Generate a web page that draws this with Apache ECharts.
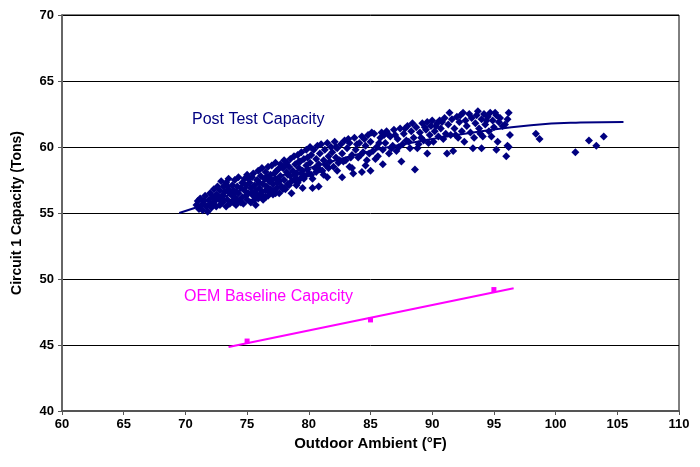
<!DOCTYPE html>
<html>
<head>
<meta charset="utf-8">
<script src="https://cdn.jsdelivr.net/npm/echarts@6/dist/echarts.min.js"></script>
<style>
  html, body { margin: 0; padding: 0; background: #fff; }
  #chart { width: 700px; height: 467px; }
</style>
</head>
<body>
<div id="chart"></div>
<script>
  // post test readings [outdoor temp F, capacity tons], split by temp range
  const postLow = [
    [70.9, 55.6], [71.0, 55.9], [71.1, 55.3], [71.2, 56.1], [71.3, 55.6], [71.4, 55.2], [71.5, 55.9],
    [71.6, 56.3], [71.7, 55.5], [71.8, 55.1], [71.9, 56.0], [72.0, 56.5], [72.0, 55.7], [72.1, 55.4],
    [72.2, 56.2], [72.3, 56.8], [72.4, 55.9], [72.5, 55.5], [72.5, 56.4], [72.6, 57.0], [72.7, 56.1],
    [72.8, 55.6], [72.8, 56.7], [72.9, 57.4], [73.0, 56.3], [73.0, 55.8], [73.1, 57.0], [73.2, 56.6],
    [73.3, 55.5], [73.3, 57.3], [73.4, 56.0], [73.5, 56.8], [73.5, 57.6], [73.6, 55.7], [73.7, 56.4],
    [73.8, 57.1], [73.8, 55.9], [73.9, 56.7], [74.0, 57.5], [74.0, 56.2], [74.1, 55.6], [74.2, 57.0],
    [74.3, 56.5], [74.3, 57.7], [74.4, 55.9], [74.5, 56.9], [74.6, 57.3], [74.6, 56.2], [74.7, 55.7],
    [74.8, 57.6], [74.8, 56.7], [74.9, 57.1], [75.0, 56.0], [75.0, 57.9], [75.1, 56.5], [75.2, 57.3],
    [75.3, 55.8], [75.3, 56.9], [75.4, 57.7], [75.5, 56.3], [75.5, 58.0], [75.6, 57.1], [75.7, 55.6],
    [75.7, 56.7], [75.8, 57.5], [75.9, 58.2], [75.9, 56.1],
    [72.2, 55.6], [72.6, 56.3], [72.9, 55.9], [73.1, 56.0], [73.4, 57.0], [73.9, 55.8], [74.1, 56.6],
    [74.5, 55.8], [74.9, 56.3], [75.1, 57.6], [75.4, 56.5], [75.8, 56.4], [75.6, 56.0], [74.2, 56.0],
    [73.6, 56.5]
  ]
  const postMid = [
    [76.0, 56.9], [76.1, 57.8], [76.1, 56.4], [76.2, 58.4], [76.3, 57.2], [76.3, 56.0], [76.4, 57.6],
    [76.5, 56.7], [76.5, 58.1], [76.6, 57.0], [76.7, 58.5], [76.7, 56.3], [76.8, 57.4], [76.9, 57.9],
    [76.9, 56.8], [77.0, 58.6], [77.1, 57.2], [77.1, 56.4], [77.2, 58.0], [77.3, 57.6], [77.3, 58.8],
    [77.4, 56.9], [77.5, 58.3], [77.5, 57.3], [77.6, 56.5], [77.7, 58.7], [77.7, 57.8], [77.8, 57.0],
    [77.9, 58.4], [78.0, 59.0], [78.0, 57.5], [78.1, 56.8], [78.2, 58.1], [78.2, 58.8], [78.3, 57.2],
    [78.4, 58.5], [78.5, 57.8], [78.5, 59.1], [78.6, 56.5], [78.7, 58.2], [78.8, 57.5], [78.8, 59.3],
    [78.9, 58.7], [79.0, 57.1], [79.0, 58.0], [79.1, 59.4], [79.2, 58.4], [79.3, 57.6], [79.3, 58.9],
    [79.4, 59.6], [79.5, 56.9], [79.5, 58.2], [79.6, 59.1], [79.7, 57.8], [79.8, 58.6], [79.8, 59.8],
    [79.9, 59.2], [80.0, 58.0], [80.1, 60.0], [80.1, 58.8], [80.2, 59.4], [80.3, 56.9], [80.3, 57.6],
    [80.4, 59.8], [80.5, 58.4], [80.6, 59.1], [80.7, 60.1], [80.8, 57.0], [80.8, 58.7], [80.9, 59.5],
    [81.0, 60.2], [81.1, 58.2], [81.2, 59.0], [81.3, 59.8], [81.4, 58.6], [81.5, 57.7], [81.5, 60.3],
    [81.6, 59.3], [81.7, 58.9], [81.8, 60.0], [81.9, 59.6],
    [76.0, 57.3], [76.4, 56.2], [76.6, 57.7], [76.8, 56.6], [77.0, 57.5], [77.2, 56.7], [77.4, 58.2],
    [77.6, 57.4], [77.9, 56.8], [78.1, 58.6], [78.3, 57.9], [78.6, 57.4], [78.9, 57.9], [79.1, 57.3],
    [79.2, 58.9], [79.6, 57.6], [79.9, 58.3], [80.2, 57.9], [80.6, 58.1], [80.9, 58.3], [81.2, 57.9],
    [81.6, 58.4], [79.4, 58.0], [77.8, 58.5], [76.2, 56.6],
    [76.5, 56.2], [77.3, 56.5], [78.0, 56.9], [78.4, 57.1], [79.0, 57.6], [77.0, 56.7], [76.0, 56.3]
  ]
  const postUpper = [
    [82.0, 58.5], [82.1, 60.4], [82.2, 59.2], [82.3, 59.9], [82.4, 58.8], [82.6, 60.2], [82.7, 57.7],
    [82.7, 59.5], [82.9, 60.5], [83.0, 59.0], [83.1, 59.9], [83.3, 58.5], [83.3, 60.3], [83.5, 59.4],
    [83.6, 58.0], [83.7, 60.7], [83.8, 59.8], [84.0, 59.2], [84.1, 60.3], [84.3, 58.1], [84.3, 60.8],
    [84.4, 59.6], [84.6, 60.1], [84.7, 59.0], [84.8, 60.9], [85.0, 58.2], [85.0, 60.4], [85.2, 59.7],
    [85.3, 61.0], [85.5, 60.0], [85.6, 59.3], [85.8, 60.7], [85.9, 61.1], [86.0, 59.8], [86.2, 60.3],
    [86.3, 61.2], [86.5, 59.5], [86.6, 60.8], [86.8, 60.1], [86.9, 61.3], [87.1, 59.7], [87.2, 60.6],
    [87.4, 61.4], [87.5, 58.9], [87.6, 60.2], [87.7, 61.0], [87.9, 60.5], [88.0, 61.6], [88.2, 59.9],
    [88.3, 61.2], [88.5, 60.7], [88.6, 58.3], [88.7, 61.5], [88.9, 60.2], [89.0, 61.1], [89.2, 61.8],
    [89.3, 60.5], [89.5, 61.3], [89.6, 59.5], [89.6, 61.9], [89.8, 60.9], [89.9, 61.6],
    [82.2, 60.0], [82.5, 59.0], [82.8, 58.9], [83.2, 60.6], [83.4, 59.2], [83.9, 60.2], [84.2, 59.4],
    [84.5, 60.6], [84.9, 59.5], [85.1, 61.1], [85.4, 59.1], [85.7, 60.3], [86.1, 60.9], [86.4, 61.0],
    [86.7, 59.9], [87.0, 60.9], [87.3, 60.0], [87.8, 61.4], [88.1, 60.4], [88.4, 61.8], [88.8, 59.9],
    [89.1, 60.7], [89.4, 61.5], [89.7, 60.3], [83.5, 58.4], [84.6, 58.6], [86.0, 58.7], [82.3, 58.2]
  ]
  const postHigh = [
    [90.0, 62.0], [90.1, 60.4], [90.2, 61.2], [90.4, 61.8], [90.5, 60.8], [90.6, 62.0], [90.7, 61.4],
    [90.9, 60.6], [91.0, 62.2], [91.1, 61.0], [91.2, 59.5], [91.3, 61.7], [91.4, 62.6], [91.5, 60.9],
    [91.6, 62.1], [91.7, 59.7], [91.8, 61.4], [92.0, 62.3], [92.1, 60.7], [92.2, 61.9], [92.3, 62.4],
    [92.4, 61.2], [92.6, 60.4], [92.7, 62.0], [92.8, 61.6], [93.0, 62.5], [93.1, 61.1], [93.2, 62.2],
    [93.3, 59.9], [93.4, 60.7], [93.5, 61.8], [93.6, 62.4], [93.7, 62.7], [93.8, 61.4], [94.0, 59.9],
    [94.0, 62.1], [94.1, 60.8], [94.2, 62.5], [94.3, 61.7], [94.5, 62.3], [94.6, 61.2], [94.7, 62.6],
    [94.8, 60.8], [94.9, 62.0], [95.0, 61.5], [95.2, 62.4], [95.2, 59.8], [95.3, 60.4], [95.4, 61.9],
    [95.5, 62.2], [95.7, 61.6], [95.9, 61.7], [96.0, 59.3], [96.1, 60.1], [96.1, 62.1], [96.2, 62.6],
    [96.3, 60.9], [96.2, 60.0],
    [90.3, 61.6], [91.9, 60.9], [93.9, 61.0], [92.5, 62.6], [95.1, 62.6], [94.4, 62.0], [90.8, 61.9]
  ]
  const postSparse = [[98.4, 61.0], [98.7, 60.6], [101.6, 59.6], [102.7, 60.5], [103.3, 60.1], [103.9, 60.8]]

  // fitted curve through the post test data
  const postFitTemps = [69.5, 72, 75, 78, 80, 83, 86, 90, 94, 98, 102, 105.5]
  const postFitCaps = [55.0, 55.8, 56.9, 57.9, 58.4, 59.2, 59.9, 60.6, 61.2, 61.65, 61.85, 61.9]

  const oemTemps = [75, 85, 95]
  const oemCaps = [45.3, 46.9, 49.2]
  const oemFitTemps = [73.5, 96.6]
  const oemFitCaps = [44.85, 49.3]

  const xTicks = [60, 65, 70, 75, 80, 85, 90, 95, 100, 105, 110]
  const yTicks = [40, 45, 50, 55, 60, 65, 70]

  const navy = '#000080'
  const magenta = '#ff00ff'
  const font = 'Liberation Sans, Arial, sans-serif'

  const pairs = (xs, ys) => xs.map((x, i) => [x, ys[i]])
  const postData = [].concat(postLow, postMid, postUpper, postHigh, postSparse)

  const chart = echarts.init(document.getElementById('chart'))
  chart.setOption({
    animation: false,
    backgroundColor: '#fff',
    grid: {
      left: 62, right: 21, top: 15, bottom: 56,
      show: true, borderColor: '#000', borderWidth: 1
    },
    xAxis: {
      type: 'value',
      min: xTicks[0], max: xTicks[xTicks.length - 1], interval: 5,
      name: 'Outdoor Ambient (°F)',
      nameLocation: 'middle', nameGap: 19,
      nameTextStyle: { fontFamily: font, fontWeight: 'bold', fontSize: 15, color: '#000' },
      axisLine: { lineStyle: { color: '#555', width: 2 } },
      axisTick: { show: true, length: 4, lineStyle: { color: '#555' } },
      axisLabel: { fontFamily: font, fontWeight: 'bold', fontSize: 13, color: '#000', margin: 7 },
      splitLine: { show: false }
    },
    yAxis: {
      type: 'value',
      min: yTicks[0], max: yTicks[yTicks.length - 1], interval: 5,
      name: 'Circuit 1 Capacity (Tons)',
      nameLocation: 'middle', nameGap: 38, nameRotate: 90,
      nameTextStyle: { fontFamily: font, fontWeight: 'bold', fontSize: 14, color: '#000' },
      axisLine: { show: true, lineStyle: { color: '#666', width: 2 } },
      axisTick: { show: true, length: 4, lineStyle: { color: '#555' } },
      axisLabel: { fontFamily: font, fontWeight: 'bold', fontSize: 13, color: '#000', margin: 8 },
      splitLine: { show: true, lineStyle: { color: '#000', width: 1 } }
    },
    series: [
      {
        name: 'Post Test Capacity',
        type: 'scatter',
        data: postData,
        symbol: 'diamond',
        symbolSize: 8,
        itemStyle: { color: navy, opacity: 1 }
      },
      {
        type: 'line',
        data: pairs(postFitTemps, postFitCaps),
        smooth: true,
        showSymbol: false,
        lineStyle: { color: navy, width: 2 }
      },
      {
        type: 'line',
        data: pairs(oemFitTemps, oemFitCaps),
        showSymbol: false,
        lineStyle: { color: magenta, width: 2 }
      },
      {
        name: 'OEM Baseline Capacity',
        type: 'scatter',
        data: pairs(oemTemps, oemCaps),
        symbol: 'rect',
        symbolSize: 5,
        itemStyle: { color: magenta, opacity: 1 }
      }
    ],
    graphic: [
      {
        type: 'text', left: 192, top: 112,
        style: { text: 'Post Test Capacity', fill: navy, font: '16px ' + font }
      },
      {
        type: 'text', left: 184, top: 289,
        style: { text: 'OEM Baseline Capacity', fill: magenta, font: '16px ' + font }
      }
    ]
  })
</script>
</body>
</html>
